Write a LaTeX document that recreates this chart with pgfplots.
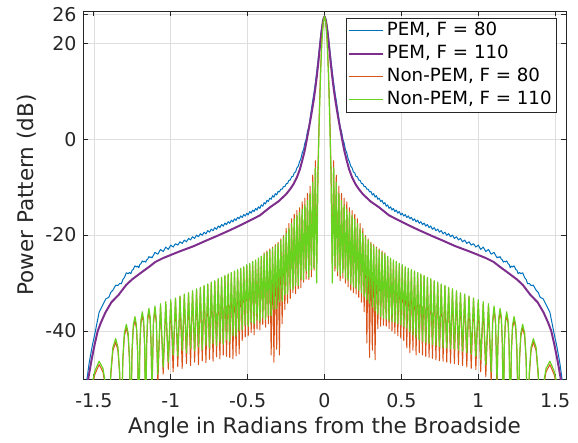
\documentclass[border=0pt]{standalone}
\usepackage{fontspec}
\setmainfont{DejaVu Sans}
\usepackage{pgfplots}
\usepackage{pgfplotstable}
\pgfplotsset{compat=1.18}
\definecolor{cblue}{rgb}{0,0.447,0.741}
\definecolor{cpurple}{rgb}{0.494,0.184,0.556}
\definecolor{corange}{rgb}{0.85,0.325,0.098}
\definecolor{cgreen}{RGB}{105,210,30}
\definecolor{caxis}{RGB}{38,38,38}
\pgfplotstableread[row sep=\\]{
x g o b \\
-1.5708 -60 -60 -54.0 \\
-1.5450 -56.0 -56.7 -50.0 \\
-1.5300 -53.6 -54.3 -46.5 \\
-1.5100 -50.7 -51.4 -43.0 \\
-1.4933 -48.3 -49.0 -40.5 \\
-1.4659 -46.3 -47.0 -36.1 \\
-1.4409 -47.8 -48.5 -34.5 \\
-1.4221 -51.5 -52.2 -33.3 \\
-1.4033 -60 -60 -33.0 \\
-1.3898 -48.5 -49.2 -31.95 \\
-1.3763 -43.4 -44.1 -31.5 \\
-1.3583 -41.6 -42.3 -30.45 \\
-1.3435 -43.4 -44.1 -30.5 \\
-1.3323 -48.5 -49.2 -30.1 \\
-1.3212 -60 -60 -30.15 \\
-1.3115 -45.5 -46.2 -29.26 \\
-1.3018 -40.4 -41.1 -28.87 \\
-1.2888 -38.6 -39.3 -27.85 \\
-1.2772 -40.4 -41.1 -28.05 \\
-1.2685 -45.5 -46.2 -27.81 \\
-1.2598 -60 -60 -28.05 \\
-1.2518 -43.9 -44.6 -27.35 \\
-1.2437 -38.8 -39.5 -27.15 \\
-1.2330 -37.0 -37.7 -26.4 \\
-1.2230 -38.8 -39.5 -26.65 \\
-1.2155 -43.9 -44.6 -26.47 \\
-1.2080 -60 -60 -26.8 \\
-1.2011 -42.9 -43.6 -26.12 \\
-1.1942 -37.8 -38.5 -25.97 \\
-1.1850 -36.0 -36.7 -25.4 \\
-1.1762 -37.8 -38.5 -25.58 \\
-1.1695 -42.9 -43.6 -25.44 \\
-1.1629 -60 -60 -25.65 \\
-1.1567 -42.2 -42.9 -25.17 \\
-1.1504 -37.1 -37.8 -25.02 \\
-1.1421 -35.3 -36.0 -24.5 \\
-1.1341 -37.1 -37.8 -24.67 \\
-1.1281 -42.2 -42.9 -24.55 \\
-1.1221 -51.5 -54.0 -24.75 \\
-1.1125 -37.8 -38.5 -24.2 \\
-1.1028 -34.8 -35.5 -23.6 \\
-1.0936 -37.8 -38.5 -23.8 \\
-1.0844 -49.0 -51.5 -24.0 \\
-1.0665 -34.3 -34.8 -23.0 \\
-1.0492 -47.5 -49.0 -23.45 \\
-1.0324 -33.9 -34.4 -22.5 \\
-1.0160 -46.5 -48.0 -23.0 \\
-1.0001 -33.5 -34.0 -22.1 \\
-0.9845 -45.0 -48.5 -22.5 \\
-0.9692 -33.1 -33.3 -21.8 \\
-0.9544 -45.2 -47.4 -22.1 \\
-0.9399 -32.7 -32.9 -21.4 \\
-0.9256 -44.0 -47.8 -21.75 \\
-0.9117 -32.3 -32.5 -21.05 \\
-0.8979 -44.5 -46.8 -21.4 \\
-0.8844 -32.0 -32.2 -20.7 \\
-0.8712 -43.6 -47.2 -21.0 \\
-0.8583 -31.6 -31.8 -20.35 \\
-0.8448 -44.1 -46.5 -20.7 \\
-0.8322 -31.2 -31.4 -20.0 \\
-0.8197 -43.3 -47.0 -20.35 \\
-0.8074 -30.9 -31.1 -19.7 \\
-0.7952 -43.8 -46.2 -20.05 \\
-0.7831 -30.5 -30.7 -19.4 \\
-0.7712 -43.0 -46.6 -19.75 \\
-0.7593 -30.2 -30.4 -19.05 \\
-0.7478 -43.5 -45.9 -19.4 \\
-0.7363 -29.8 -30.0 -18.75 \\
-0.7249 -42.6 -46.3 -19.1 \\
-0.7137 -29.5 -29.7 -18.45 \\
-0.7022 -43.1 -45.4 -18.8 \\
-0.6912 -29.1 -29.3 -18.1 \\
-0.6802 -42.3 -45.8 -18.45 \\
-0.6694 -28.8 -29.0 -17.8 \\
-0.6586 -42.7 -45.0 -18.15 \\
-0.6479 -28.4 -28.6 -17.5 \\
-0.6373 -41.8 -45.3 -17.85 \\
-0.6267 -28.1 -28.3 -17.2 \\
-0.6163 -42.1 -45.5 -17.55 \\
-0.6059 -27.8 -28.0 -16.9 \\
-0.5956 -41.0 -45.8 -17.25 \\
-0.5854 -27.5 -27.7 -16.6 \\
-0.5752 -41.1 -45.2 -16.95 \\
-0.5651 -27.2 -27.4 -16.3 \\
-0.5551 -39.9 -44.8 -16.6 \\
-0.5451 -26.9 -27.1 -16.0 \\
-0.5352 -39.7 -42.0 -16.35 \\
-0.5253 -26.6 -26.8 -15.7 \\
-0.5155 -38.7 -41.2 -16.05 \\
-0.5058 -26.2 -26.4 -15.45 \\
-0.4961 -39.0 -41.0 -15.8 \\
-0.4865 -25.9 -26.1 -15.1 \\
-0.4769 -38.2 -40.3 -15.45 \\
-0.4672 -25.5 -25.7 -14.8 \\
-0.4577 -38.5 -40.8 -15.1 \\
-0.4483 -25.2 -25.4 -14.45 \\
-0.4389 -37.7 -39.6 -14.8 \\
-0.4296 -24.8 -25.0 -14.1 \\
-0.4202 -38.1 -39.8 -14.45 \\
-0.4110 -24.4 -24.5 -13.7 \\
-0.4017 -37.2 -38.6 -14.0 \\
-0.3925 -24.0 -23.7 -13.25 \\
-0.3833 -37.6 -39.2 -13.5 \\
-0.3742 -23.6 -23.3 -12.75 \\
-0.3651 -36.7 -38.5 -13.0 \\
-0.3560 -23.2 -22.9 -12.3 \\
-0.3469 -36.8 -45.0 -12.55 \\
-0.3379 -22.8 -22.5 -11.8 \\
-0.3289 -35.5 -46.5 -12.1 \\
-0.3199 -22.3 -22.0 -11.35 \\
-0.3110 -35.3 -43.8 -11.65 \\
-0.3021 -21.8 -21.5 -10.9 \\
-0.2932 -33.9 -45.0 -11.0 \\
-0.2843 -21.1 -20.8 -10.45 \\
-0.2755 -33.8 -38.5 -10.45 \\
-0.2667 -20.4 -20.1 -9.9 \\
-0.2579 -32.5 -35.5 -9.9 \\
-0.2491 -19.6 -18.6 -9.3 \\
-0.2403 -32.3 -34.2 -9.25 \\
-0.2316 -18.6 -17.6 -8.6 \\
-0.2228 -31.2 -33.2 -8.55 \\
-0.2141 -17.6 -16.6 -7.85 \\
-0.2054 -31.3 -32.0 -7.8 \\
-0.1968 -16.7 -15.7 -7.05 \\
-0.1881 -30.5 -32.2 -6.85 \\
-0.1795 -15.9 -14.9 -6.0 \\
-0.1708 -30.5 -31.2 -5.65 \\
-0.1622 -15.3 -14.3 -4.7 \\
-0.1536 -29.2 -31.0 -4.1 \\
-0.1450 -14.6 -13.1 -2.85 \\
-0.1364 -29.3 -29.8 -2.2 \\
-0.1278 -13.8 -12.3 -0.85 \\
-0.1193 -27.5 -29.2 0.0 \\
-0.1107 -12.8 -11.3 1.6 \\
-0.1022 -28.8 -29.3 2.5 \\
-0.0936 -11.3 -9.8 4.3 \\
-0.0851 -27.2 -28.7 6.2 \\
-0.0766 -9.0 -7.5 8.0 \\
-0.0681 -26.8 -27.3 9.7 \\
-0.0595 -6.0 -4.5 11.7 \\
-0.0510 -30.0 -27.0 13.9 \\
-0.0425 -8.0 -6.0 16.3 \\
-0.0340 4.0 5.5 18.8 \\
-0.0255 13.5 14.5 21.4 \\
-0.0170 20.3 20.8 23.5 \\
-0.0085 24.3 24.5 25.1 \\
0 25.6 25.6 25.6 \\
0.0085 24.3 24.5 25.1 \\
0.0170 20.3 20.8 23.5 \\
0.0255 13.5 14.5 21.4 \\
0.0340 4.0 5.5 18.8 \\
0.0425 -8.0 -6.0 16.3 \\
0.0510 -30.0 -27.0 13.9 \\
0.0595 -6.0 -4.5 11.7 \\
0.0681 -26.5 -27.5 9.7 \\
0.0766 -9.0 -7.5 8.0 \\
0.0851 -27.5 -28.5 6.2 \\
0.0936 -11.3 -9.8 4.3 \\
0.1022 -28.5 -29.5 2.5 \\
0.1107 -12.8 -11.3 1.6 \\
0.1193 -27.8 -29.0 0.0 \\
0.1278 -13.8 -12.3 -0.85 \\
0.1364 -29.0 -30.0 -2.2 \\
0.1450 -14.6 -13.1 -2.85 \\
0.1536 -29.5 -30.8 -4.1 \\
0.1622 -15.3 -14.3 -4.7 \\
0.1708 -30.2 -31.5 -5.65 \\
0.1795 -15.9 -14.9 -6.0 \\
0.1881 -30.8 -32.0 -6.85 \\
0.1968 -16.7 -15.7 -7.05 \\
0.2054 -31.0 -32.3 -7.8 \\
0.2141 -17.6 -16.6 -7.85 \\
0.2228 -31.5 -33.0 -8.55 \\
0.2316 -18.6 -17.6 -8.6 \\
0.2403 -32.0 -34.0 -9.25 \\
0.2491 -19.6 -18.6 -9.3 \\
0.2579 -32.8 -36.0 -9.9 \\
0.2667 -20.4 -20.1 -9.9 \\
0.2755 -33.5 -42.5 -10.45 \\
0.2843 -21.1 -20.8 -10.45 \\
0.2932 -34.2 -45.5 -11.0 \\
0.3021 -21.8 -21.5 -10.9 \\
0.3110 -35.0 -44.0 -11.65 \\
0.3199 -22.3 -22.0 -11.35 \\
0.3289 -35.8 -46.0 -12.1 \\
0.3379 -22.8 -22.5 -11.8 \\
0.3469 -36.5 -39.5 -12.55 \\
0.3560 -23.2 -22.9 -12.3 \\
0.3651 -37.0 -39.0 -13.0 \\
0.3742 -23.6 -23.3 -12.75 \\
0.3833 -37.3 -38.8 -13.5 \\
0.3925 -24.0 -23.7 -13.25 \\
0.4017 -37.5 -39.0 -14.0 \\
0.4110 -24.4 -24.5 -13.7 \\
0.4202 -37.8 -39.5 -14.45 \\
0.4296 -24.8 -25.0 -14.1 \\
0.4389 -38.0 -40.0 -14.8 \\
0.4483 -25.2 -25.4 -14.45 \\
0.4577 -38.2 -40.5 -15.1 \\
0.4672 -25.5 -25.7 -14.8 \\
0.4769 -38.5 -41.0 -15.45 \\
0.4865 -25.9 -26.1 -15.1 \\
0.4961 -38.7 -41.5 -15.8 \\
0.5058 -26.2 -26.4 -15.45 \\
0.5155 -39.0 -42.0 -16.05 \\
0.5253 -26.6 -26.8 -15.7 \\
0.5352 -39.4 -43.5 -16.35 \\
0.5451 -26.9 -27.1 -16.0 \\
0.5551 -40.2 -44.5 -16.6 \\
0.5651 -27.2 -27.4 -16.3 \\
0.5752 -40.8 -44.0 -16.95 \\
0.5854 -27.5 -27.7 -16.6 \\
0.5956 -41.3 -45.0 -17.25 \\
0.6059 -27.8 -28.0 -16.9 \\
0.6163 -41.8 -44.5 -17.55 \\
0.6267 -28.1 -28.3 -17.2 \\
0.6373 -42.1 -45.0 -17.85 \\
0.6479 -28.4 -28.6 -17.5 \\
0.6586 -42.4 -45.3 -18.15 \\
0.6694 -28.8 -29.0 -17.8 \\
0.6802 -42.6 -45.5 -18.45 \\
0.6912 -29.1 -29.3 -18.1 \\
0.7022 -42.8 -45.7 -18.8 \\
0.7137 -29.5 -29.7 -18.45 \\
0.7249 -43.0 -46.0 -19.1 \\
0.7363 -29.8 -30.0 -18.75 \\
0.7478 -43.2 -46.2 -19.4 \\
0.7593 -30.2 -30.4 -19.05 \\
0.7712 -43.4 -46.3 -19.75 \\
0.7831 -30.5 -30.7 -19.4 \\
0.7952 -43.5 -46.5 -20.05 \\
0.8074 -30.9 -31.1 -19.7 \\
0.8197 -43.7 -46.7 -20.35 \\
0.8322 -31.2 -31.4 -20.0 \\
0.8448 -43.8 -46.8 -20.7 \\
0.8583 -31.6 -31.8 -20.35 \\
0.8712 -44.0 -47.0 -21.0 \\
0.8844 -32.0 -32.2 -20.7 \\
0.8979 -44.2 -47.2 -21.4 \\
0.9117 -32.3 -32.5 -21.05 \\
0.9256 -44.5 -47.5 -21.75 \\
0.9399 -32.7 -32.9 -21.4 \\
0.9544 -44.8 -47.8 -22.1 \\
0.9692 -33.1 -33.3 -21.8 \\
0.9845 -45.3 -48.0 -22.5 \\
1.0001 -33.5 -34.0 -22.1 \\
1.0160 -46.0 -48.5 -23.0 \\
1.0324 -33.9 -34.4 -22.5 \\
1.0492 -47.0 -49.5 -23.45 \\
1.0665 -34.3 -34.8 -23.0 \\
1.0844 -48.5 -51.0 -24.0 \\
1.0936 -37.8 -38.5 -23.8 \\
1.1028 -34.8 -35.5 -23.6 \\
1.1125 -37.8 -38.5 -24.2 \\
1.1221 -50.5 -53.0 -24.75 \\
1.1281 -42.2 -42.9 -24.55 \\
1.1341 -37.1 -37.8 -24.67 \\
1.1421 -35.3 -36.0 -24.5 \\
1.1504 -37.1 -37.8 -25.02 \\
1.1567 -42.2 -42.9 -25.17 \\
1.1629 -60 -60 -25.65 \\
1.1695 -42.9 -43.6 -25.44 \\
1.1762 -37.8 -38.5 -25.58 \\
1.1850 -36.0 -36.7 -25.4 \\
1.1942 -37.8 -38.5 -25.97 \\
1.2011 -42.9 -43.6 -26.12 \\
1.2080 -60 -60 -26.8 \\
1.2155 -43.9 -44.6 -26.47 \\
1.2230 -38.8 -39.5 -26.65 \\
1.2330 -37.0 -37.7 -26.4 \\
1.2437 -38.8 -39.5 -27.15 \\
1.2518 -43.9 -44.6 -27.35 \\
1.2598 -60 -60 -28.05 \\
1.2685 -45.5 -46.2 -27.81 \\
1.2772 -40.4 -41.1 -28.05 \\
1.2888 -38.6 -39.3 -27.85 \\
1.3018 -40.4 -41.1 -28.87 \\
1.3115 -45.5 -46.2 -29.26 \\
1.3212 -60 -60 -30.15 \\
1.3323 -48.5 -49.2 -30.1 \\
1.3435 -43.4 -44.1 -30.5 \\
1.3583 -41.6 -42.3 -30.45 \\
1.3763 -43.4 -44.1 -31.5 \\
1.3898 -48.5 -49.2 -31.95 \\
1.4033 -60 -60 -33.0 \\
1.4221 -51.5 -52.2 -33.3 \\
1.4409 -47.8 -48.5 -34.5 \\
1.4659 -46.3 -47.0 -36.1 \\
1.4933 -48.3 -49.0 -40.5 \\
1.5100 -50.7 -51.4 -43.0 \\
1.5300 -53.6 -54.3 -46.5 \\
1.5450 -56.0 -56.7 -50.0 \\
1.5708 -60 -60 -54.0 \\
}\datatab
\begin{document}
\begin{tikzpicture}
\begin{axis}[
  at={(0,0)}, anchor=south west,
  width=483pt, height=368pt, scale only axis,
  xmin=-1.5708, xmax=1.5708, ymin=-50, ymax=26.7,
  xtick={-1.5,-1,-0.5,0,0.5,1,1.5},
  xticklabels={-1.5,-1,-0.5,0,0.5,1,1.5},
  ytick={-40,-20,0,20,26},
  yticklabels={-40,-20,0,20,26},
  tick align=inside, major tick length=5pt,
  grid=major, grid style={draw=black!13, line width=0.7pt},
  axis line style={draw=caxis, line width=0.8pt},
  tick style={draw=caxis, line width=0.8pt},
  ticklabel style={font=\fontsize{19}{22}\selectfont, text=caxis},
  xticklabel style={yshift=-11pt},
  yticklabel style={xshift=-3pt},
  label style={font=\fontsize{21.5}{25}\selectfont, text=caxis},
  xlabel={Angle in Radians from the Broadside},
  ylabel={Power Pattern (dB)},
  xlabel style={yshift=-2pt},
  ylabel style={yshift=2pt},
  legend style={at={(1,1)}, anchor=north east, xshift=-9pt, yshift=-7pt,
    font=\fontsize{18.2}{21}\selectfont, draw=caxis, line width=0.8pt, fill=white,
    inner xsep=2pt, inner ysep=2pt, row sep=2pt,
    nodes={text height=13.5pt, text depth=3.5pt, inner ysep=2pt, inner xsep=3pt},
    cells={anchor=west}},
  legend image code/.code={\draw[#1, line join=round] (0pt,0pt) -- (34pt,0pt);},
  every axis plot/.append style={line join=round, mark=none},
]
\addplot[color=cblue, line width=1pt] table[x=x, y=b] {\datatab};
\addlegendentry{PEM, F = 80}
\addplot[color=cpurple, line width=2pt] coordinates {
(-1.5708,-56.0) (-1.537,-50.0) (-1.515,-46.0) (-1.495,-42.8) (-1.475,-40.0)
(-1.455,-38.3) (-1.426,-36.2) (-1.386,-34.0) (-1.34,-32.5) (-1.29,-30.4)
(-1.25,-29.2) (-1.20,-28.0) (-1.14,-26.6) (-1.10,-25.6) (-1.05,-24.8)
(-0.95,-23.5) (-0.85,-22.3) (-0.78,-21.3) (-0.70,-20.2) (-0.616,-19.0)
(-0.55,-18.0) (-0.50,-17.2) (-0.42,-15.9) (-0.354,-14.2) (-0.30,-13.0)
(-0.25,-11.5) (-0.223,-10.4) (-0.20,-9.3) (-0.18,-8.0) (-0.16,-6.3)
(-0.145,-4.5) (-0.13,-2.6) (-0.115,-0.1) (-0.10,2.5) (-0.09,4.3)
(-0.08,6.2) (-0.07,8.2) (-0.06,10.5) (-0.05,13.1) (-0.04,16.0)
(-0.03,19.2) (-0.02,22.2) (-0.01,24.6) (0,25.6)
(0.01,24.6) (0.02,22.2) (0.03,19.2) (0.04,16.0) (0.05,13.1)
(0.06,10.5) (0.07,8.2) (0.08,6.2) (0.09,4.3) (0.10,2.5)
(0.115,-0.1) (0.13,-2.6) (0.145,-4.5) (0.16,-6.3) (0.18,-8.0)
(0.20,-9.3) (0.223,-10.4) (0.25,-11.5) (0.30,-13.0) (0.354,-14.2)
(0.42,-15.9) (0.50,-17.2) (0.55,-18.0) (0.616,-19.0) (0.70,-20.2)
(0.78,-21.3) (0.85,-22.3) (0.95,-23.5) (1.05,-24.8) (1.10,-25.6)
(1.14,-26.6) (1.20,-28.0) (1.25,-29.2) (1.29,-30.4) (1.34,-32.5)
(1.386,-34.0) (1.426,-36.2) (1.455,-38.3) (1.475,-40.0) (1.495,-42.8)
(1.515,-46.0) (1.537,-50.0) (1.5708,-56.0)
};
\addlegendentry{PEM, F = 110}
\addplot[color=corange, line width=1pt] table[x=x, y=o] {\datatab};
\addlegendentry{Non-PEM, F = 80}
\addplot[color=cgreen, line width=1.2pt] table[x=x, y=g] {\datatab};
\addlegendentry{Non-PEM, F = 110}
\end{axis}
\pgfresetboundingbox
\path[use as bounding box] (-83pt,-63pt) rectangle (495pt,379pt);
\end{tikzpicture}
\end{document}
